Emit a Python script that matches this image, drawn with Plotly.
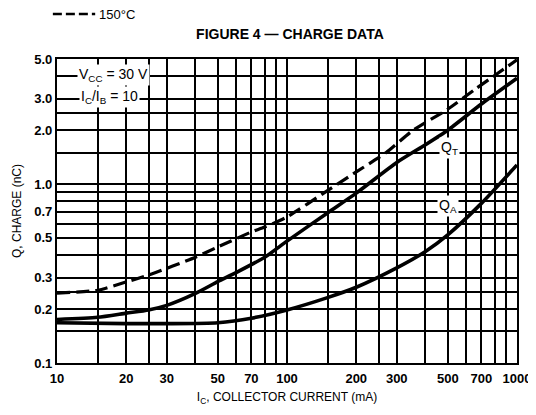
import plotly.graph_objects as go

# ---- data ----
current_150 = [10, 15, 20, 25, 40, 50, 70, 80, 100, 150, 200, 270, 350, 500, 650, 1000]
charge_150 = [0.246, 0.255, 0.284, 0.31, 0.39, 0.445, 0.54, 0.575, 0.655, 0.92, 1.17, 1.5, 1.98, 2.62, 3.35, 4.95]

current_qt = [10, 15, 20, 25, 30, 40, 50, 60, 80, 100, 150, 200, 300, 400, 500, 700, 1000]
charge_qt = [0.175, 0.18, 0.19, 0.198, 0.21, 0.245, 0.285, 0.32, 0.39, 0.48, 0.69, 0.89, 1.32, 1.66, 2.0, 2.8, 3.9]

current_qa = [10, 20, 30, 50, 70, 100, 150, 200, 300, 400, 500, 700, 1000]
charge_qa = [0.168, 0.166, 0.166, 0.168, 0.178, 0.198, 0.232, 0.265, 0.34, 0.42, 0.52, 0.78, 1.28]

x_ticks = [10, 20, 30, 50, 70, 100, 200, 300, 500, 700, 1000]
x_ticktext = ["10", "20", "30", "50", "70", "100", "200", "300", "500", "700", "1000"]
x_minor_grid = [15, 25, 40, 60, 80, 90, 150, 250, 400, 600, 800, 900]
y_ticks = [0.1, 0.2, 0.3, 0.5, 0.7, 1.0, 2.0, 3.0, 5.0]
y_ticktext = ["0.1", "0.2", "0.3", "0.5", "0.7", "1.0", "2.0", "3.0", "5.0"]
y_minor_grid = [0.15, 0.25, 0.4, 0.6, 0.8, 0.9, 1.5, 2.5, 4.0]

FONT = "Liberation Sans, Arial, sans-serif"

fig = go.Figure()
fig.add_trace(go.Scatter(x=current_150, y=charge_150, mode="lines", name="150°C",
                         line=dict(color="black", width=3.2, dash="13px,6px", shape="spline", smoothing=0.6),
                         showlegend=False))
fig.add_trace(go.Scatter(x=current_qt, y=charge_qt, mode="lines", name="Q_T",
                         line=dict(color="black", width=3.6, shape="spline", smoothing=0.6),
                         showlegend=False))
fig.add_trace(go.Scatter(x=current_qa, y=charge_qa, mode="lines", name="Q_A",
                         line=dict(color="black", width=3.6, shape="spline", smoothing=0.6),
                         showlegend=False))

axis_common = dict(
    showgrid=True, gridcolor="black", gridwidth=1.8,
    showline=True, linecolor="black", linewidth=2.2, mirror=True,
    ticks="", zeroline=False, automargin=False,
    tickfont=dict(family=FONT, size=13, color="black", weight="bold"),
)

fig.update_xaxes(type="log", range=[1, 3], tickmode="array", tickvals=x_ticks,
                 ticktext=x_ticktext, ticklabelstandoff=2,
                 minor=dict(tickmode="array", tickvals=x_minor_grid, showgrid=True,
                            gridcolor="black", gridwidth=1.8, ticks=""),
                 title=dict(text="I<sub>C</sub>, COLLECTOR CURRENT (mA)",
                            font=dict(family=FONT, size=12, color="black"), standoff=8),
                 **axis_common)
fig.update_yaxes(type="log", range=[-1, 0.69897], tickmode="array", tickvals=y_ticks,
                 ticktext=y_ticktext, ticklabelstandoff=0,
                 minor=dict(tickmode="array", tickvals=y_minor_grid, showgrid=True,
                            gridcolor="black", gridwidth=1.8, ticks=""),
                 title=dict(text="Q, CHARGE (nC)",
                            font=dict(family=FONT, size=12, color="black"), standoff=10),
                 **axis_common)

ann_font = dict(family=FONT, size=14, color="black")
common_ann = dict(xref="paper", yref="paper", showarrow=False, xanchor="center", yanchor="middle",
                  font=ann_font, bgcolor="white", borderpad=1)
fig.add_annotation(x=0.122, y=0.947, text="V<sub>CC</sub> = 30 V", **common_ann)
fig.add_annotation(x=0.115, y=0.876, text="I<sub>C</sub>/I<sub>B</sub> = 10", **common_ann)
fig.add_annotation(x=0.853, y=0.707, text="Q<sub>T</sub>", **common_ann)
fig.add_annotation(x=0.85, y=0.516, text="Q<sub>A</sub>", **common_ann)

# legend key for the dashed curve
fig.add_shape(type="line", xref="paper", yref="paper", x0=-0.009, x1=0.083, y0=1.148, y1=1.148,
              line=dict(color="black", width=2.4, dash="9px,4px"))
fig.add_annotation(x=0.087, y=1.148, xref="paper", yref="paper", xanchor="left", yanchor="middle",
                   showarrow=False, text="150°C", font=dict(family=FONT, size=13, color="black"))

# page has an 8px body margin: size the figure to the visible window
fig.update_layout(
    width=528, height=407,
    margin=dict(l=49, r=19, t=51, b=52),
    paper_bgcolor="white", plot_bgcolor="white",
    title=dict(text="FIGURE 4 — CHARGE DATA", x=0.534, xanchor="center", y=0.936, yanchor="middle",
               font=dict(family=FONT, size=14, color="black", weight="bold")),
    showlegend=False,
)

fig.write_html("out.html")
